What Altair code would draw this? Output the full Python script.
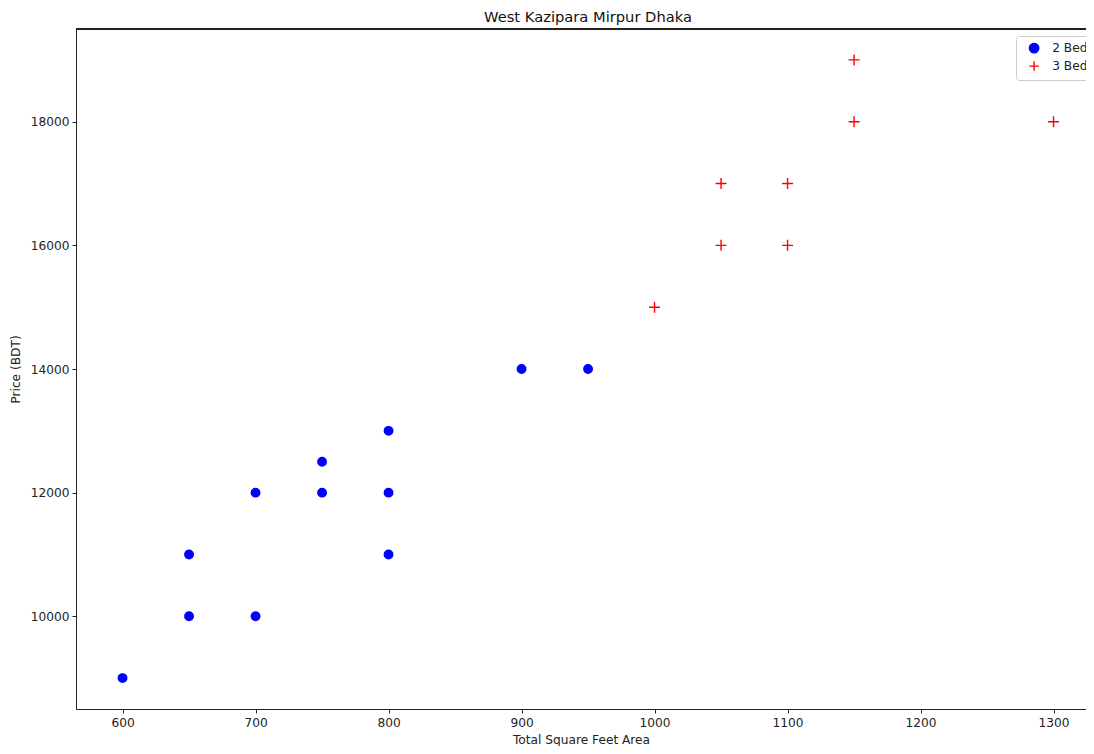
import altair as alt
import pandas as pd

bed2_sqft = [600, 650, 650, 700, 700, 750, 750, 800, 800, 800, 900, 950]
bed2_price = [9000, 10000, 11000, 10000, 12000, 12000, 12500, 11000, 12000, 13000, 14000, 14000]
bed3_sqft = [1000, 1050, 1050, 1100, 1100, 1150, 1150, 1300]
bed3_price = [15000, 16000, 17000, 16000, 17000, 18000, 19000, 18000]
x_ticks = [600, 700, 800, 900, 1000, 1100, 1200, 1300]
y_ticks = [10000, 12000, 14000, 16000, 18000]
groups = ["2 Bed", "3 Bed"]

bed_col = [groups[0]] * len(bed2_sqft) + [groups[1]] * len(bed3_sqft)
df = pd.DataFrame({
    "sqft": bed2_sqft + bed3_sqft,
    "price": bed2_price + bed3_price,
    "bed": bed_col,
    "marker": bed_col,
})

W, H = 1010, 680
FONT = "DejaVu Sans"
FS = 12.2

xs = alt.Scale(domain=[565, 565 + W / 1.33], nice=False, zero=False)
ys = alt.Scale(domain=[8500, 19500], nice=False, zero=False)

leg = alt.Legend(title=None, orient="none", legendX=940, legendY=7,
                 strokeColor="#cccccc", fillColor="white",
                 padding=6, cornerRadius=3, labelFontSize=FS,
                 labelFont=FONT, labelColor="#222222",
                 symbolSize=90, symbolStrokeWidth=1.4, symbolOffset=6,
                 labelOffset=12, rowPadding=2)

pts = alt.Chart(df).mark_point(filled=True, opacity=1, strokeWidth=1.4).encode(
    x=alt.X("sqft:Q", scale=xs, title="Total Square Feet Area",
            axis=alt.Axis(values=x_ticks, format="d", grid=False, tickSize=4,
                          domainColor="#222222", tickColor="#222222",
                          labelPadding=3, titlePadding=5)),
    y=alt.Y("price:Q", scale=ys, title="Price (BDT)",
            axis=alt.Axis(values=y_ticks, format="d", grid=False, tickSize=4,
                          domainColor="#222222", tickColor="#222222",
                          labelPadding=3, titlePadding=8)),
    fill=alt.Fill("bed:N", scale=alt.Scale(domain=groups, range=["blue", "red"]), legend=leg),
    stroke=alt.Stroke("bed:N", scale=alt.Scale(domain=groups, range=["blue", "red"]), legend=leg),
    shape=alt.Shape("bed:N", scale=alt.Scale(domain=groups,
                                             range=["circle", "M-1,0L1,0M0,-1L0,1"]), legend=leg),
    size=alt.Size("marker:N", scale=alt.Scale(range=[72, 121]), legend=None),
)

top_border = alt.Chart(df).mark_rule(color="#222222", strokeWidth=1).encode(
    x=alt.value(0), x2=alt.value(W), y=alt.value(0)
)

chart = alt.layer(pts, top_border).properties(
    width=W, height=H,
    title=alt.TitleParams("West Kazipara Mirpur Dhaka", font=FONT, fontSize=14.7,
                          fontWeight="normal", color="#111111", dx=7, offset=4),
    autosize=alt.AutoSizeParams(type="none"),
    padding={"left": 68, "top": 21, "right": 0, "bottom": 37},
).configure_view(stroke=None).configure_axis(
    labelFont=FONT, titleFont=FONT, labelFontSize=FS, titleFontSize=FS,
    labelColor="#222222", titleColor="#222222", titleFontWeight="normal",
)

chart.save("out.html", embed_options={"renderer": "svg", "actions": False})
